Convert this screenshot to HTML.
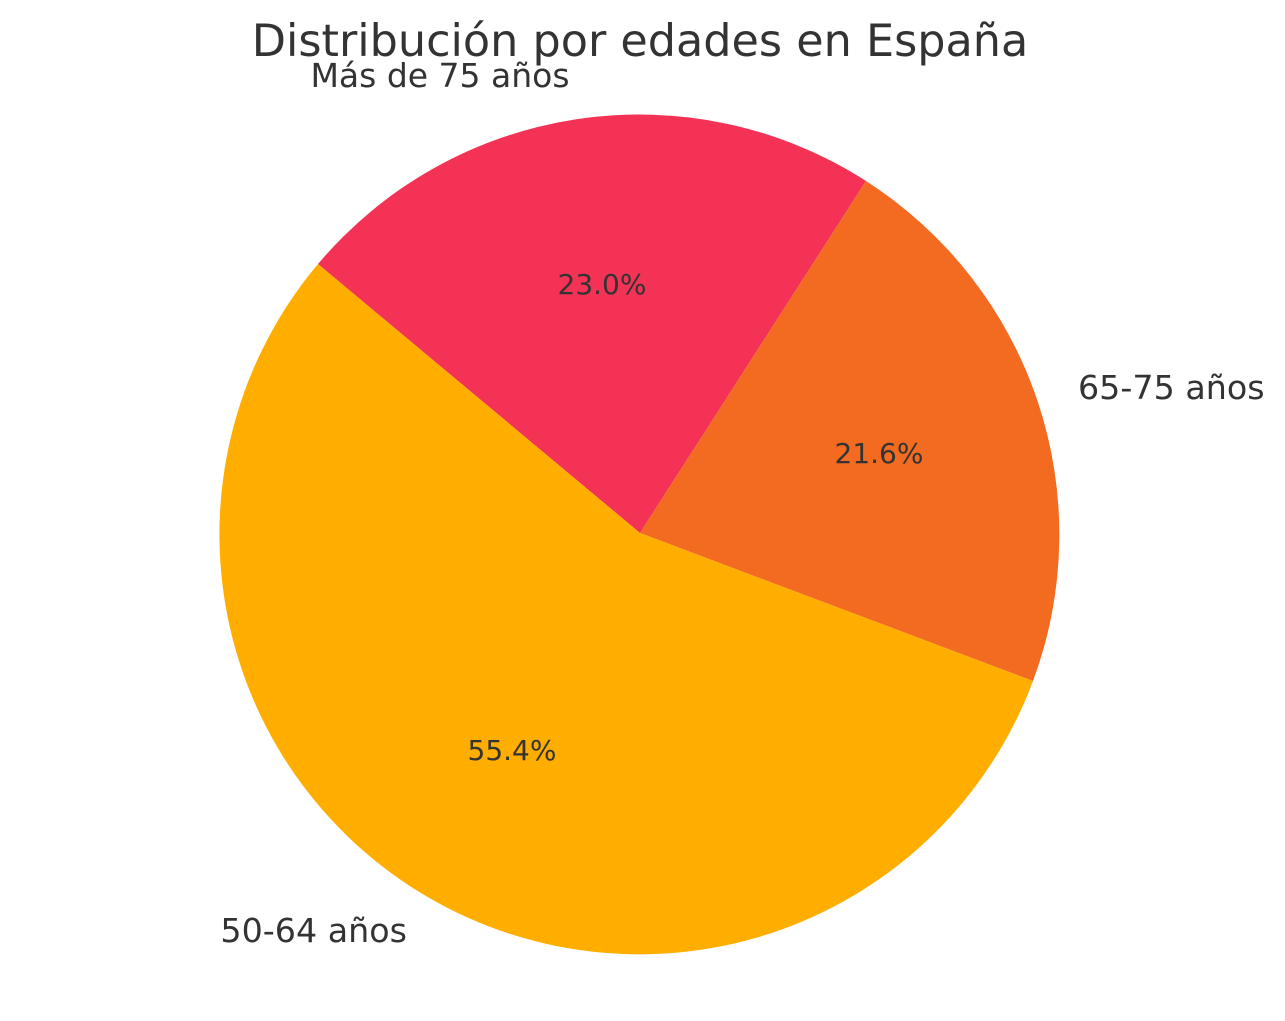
<!DOCTYPE html>
<html><head><meta charset="utf-8"><style>body{margin:0;background:#fff}</style></head>
<body>
<svg width="1285" height="1016" xmlns="http://www.w3.org/2000/svg" font-family="DejaVu Sans, Liberation Sans, sans-serif" fill="#333">
<rect width="1285" height="1016" fill="#fff"/>
<path d="M640,533 L866,181 A420,420 0 0 0 318,264 Z" fill="#F43256"/>
<path d="M640,533 L1033,681 A420,420 0 0 0 866,181 Z" fill="#F26B21"/>
<path d="M640,533 L318,264 A420,420 0 1 0 1033,681 Z" fill="#FFAE00"/>
<text x="640" y="56" font-size="44.5" text-anchor="middle" fill="#333">Distribución por edades en España</text>
<text x="440" y="87" font-size="33" text-anchor="middle">Más de 75 años</text>
<text x="1078" y="399" font-size="33.3">65-75 años</text>
<text x="407" y="942" font-size="33.3" text-anchor="end">50-64 años</text>
<text x="602" y="294" font-size="28" text-anchor="middle">23.0%</text>
<text x="879" y="463" font-size="28" text-anchor="middle">21.6%</text>
<text x="512" y="760" font-size="28" text-anchor="middle">55.4%</text>
</svg>
</body></html>
